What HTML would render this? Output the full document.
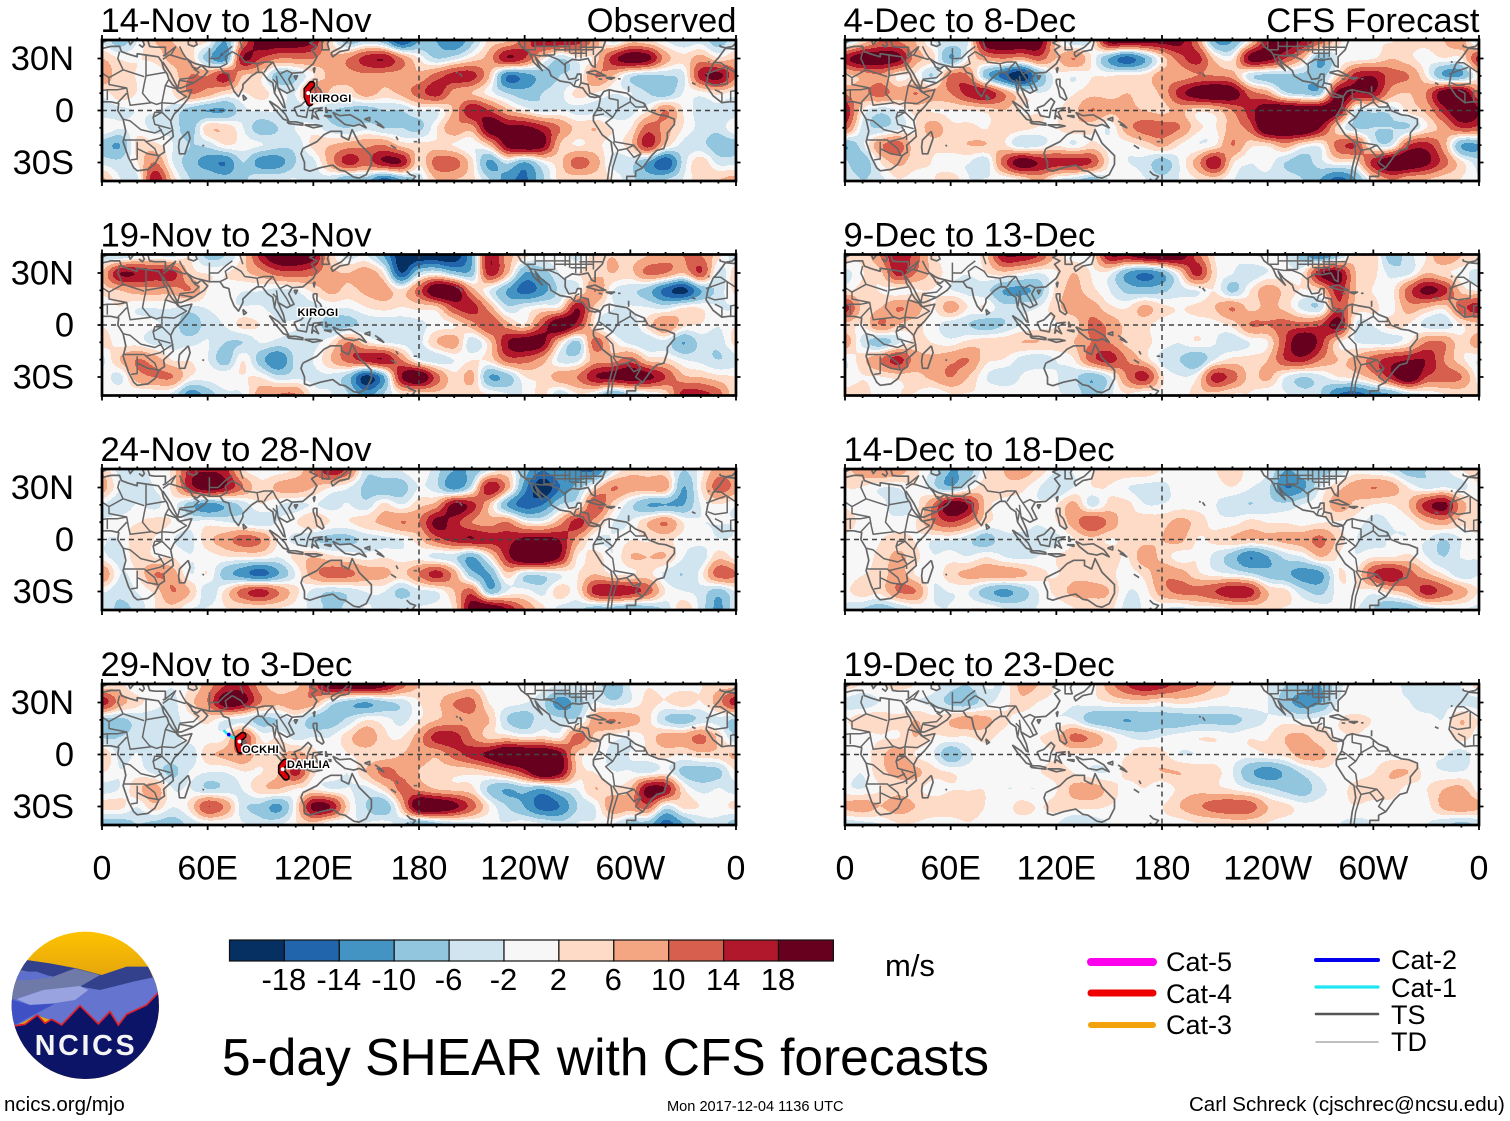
<!DOCTYPE html>
<html lang="en">
<head>
<meta charset="utf-8">
<title>5-day SHEAR with CFS forecasts</title>
<style>
html,body{margin:0;padding:0;background:#fff;}
svg{display:block;}
text{font-family:"Liberation Sans",sans-serif;fill:#000;}
</style>
</head>
<body>
<svg id="chart" xmlns="http://www.w3.org/2000/svg" width="1510" height="1121" viewBox="0 0 1510 1121">
  <rect x="0" y="0" width="1510" height="1121" fill="#fff"/>
  <defs>
    <linearGradient id="skyGrad" x1="0" y1="0" x2="0" y2="1">
      <stop offset="0" stop-color="#ffc400"/><stop offset="0.3" stop-color="#e5a60c"/>
    </linearGradient>
    <clipPath id="logoClip"><circle cx="256" cy="241" r="221"/></clipPath>
  </defs>
  <g id="panels"></g>
  <g id="colorbar"></g>
  <text x="885" y="976" font-size="31">m/s</text>

  <g transform="translate(0,925) scale(0.3333)">
    <g clip-path="url(#logoClip)">
      <rect x="30" y="15" width="452" height="460" fill="url(#skyGrad)"/>
      <polygon points="20,170 80,105 150,115 230,130 305,150 380,125 445,125 490,230 20,260" fill="#33418c"/>
      <polygon points="30,165 60,135 110,145 160,155 225,130 300,150 240,185 200,200 30,225" fill="#6f7aa8"/>
      <polygon points="50,140 110,140 160,157 90,165 40,165" fill="#5f70cc"/>
      <polygon points="30,230 50,220 130,195 240,185 300,195 400,170 470,155 490,215 440,240 380,270 350,300 300,300 240,240 190,300 110,270 45,305 20,300" fill="#6474cf"/>
      <polygon points="50,222 130,195 240,183 265,195 225,225 160,235 90,240" fill="#98a3e0"/>
      <polygon points="30,222 90,240 165,236 100,270 45,300 25,300" fill="#3e50c4"/>
      <polygon points="20,300 45,305 75,298 112,270 135,295 155,283 185,300 240,242 295,297 330,260 355,300 380,268 440,240 475,205 490,480 20,480" fill="#0b1466"/>
      <polyline points="40,303 75,298 112,270 135,295 155,283 185,300 240,242 295,297 330,260 355,300 380,268 440,240 475,203" fill="none" stroke="#e0202a" stroke-width="5"/>
    </g>
    <text x="258" y="390" text-anchor="middle" font-size="86" font-weight="700" letter-spacing="8" style="fill:#f4f4f4">NCICS</text>
  </g>

  <text x="222" y="1075" font-size="51.5">5-day SHEAR with CFS forecasts</text>
  <text x="4" y="1111" font-size="20.5">ncics.org/mjo</text>
  <text x="667" y="1111" font-size="14.6">Mon 2017-12-04 1136 UTC</text>
  <text x="1189" y="1111" font-size="20.5">Carl Schreck (cjschrec@ncsu.edu)</text>
  <g id="legend"></g>
</svg>

<script>
/* ---------- chart data ---------- */
const levelEdges = [-18,-14,-10,-6,-2,2,6,10,14,18];
const levelColors = ['#053061','#2166ac','#4393c3','#92c5de','#d1e5f0','#f7f7f7','#fddbc7','#f4a582','#d6604d','#b2182b','#67001f'];
const colorbarTickLabels = ['-18','-14','-10','-6','-2','2','6','10','14','18'];
const xTickLons = [0,60,120,180,240,300,360];
const xTickLabels = ['0','60E','120E','180','120W','60W','0'];
const yTickLats = [30,0,-30];
const yTickLabels = ['30N','0','30S'];
const leftTitles = ['14-Nov to 18-Nov','19-Nov to 23-Nov','24-Nov to 28-Nov','29-Nov to 3-Dec'];
const rightTitles = ['4-Dec to 8-Dec','9-Dec to 13-Dec','14-Dec to 18-Dec','19-Dec to 23-Dec'];

/* shear anomaly, m/s: rows 40N..40S every 10 deg, columns 0..350E every 10 deg */
const fieldNov14 = [
[-2,-6,-1,4,4,2,1,-8,8,20,20,20,16,2,-6,-3,-6,-16,-8,-8,-12,-5,2,4,10,16,16,14,6,-2,3,2,-1,-3,-2,-6],
[4,1,1,2,5,3,-6,-10,16,12,8,8,8,5,8,14,16,8,1,-4,-2,2,6,16,12,2,-4,0,2,14,20,18,6,2,6,2],
[8,2,1,-1,2,8,8,14,4,2,-6,-4,1,5,6,7,6,6,5,10,14,14,4,-12,-10,-6,-4,-2,8,4,-3,-5,-4,-2,14,18],
[0,3,1,0,1,8,6,2,1,2,0,-1,10,3,2,6,3,5,10,14,6,4,0,-4,-6,-4,-2,2,1,-1,-1,-4,-6,-1,0,2],
[-3,-2,-1,-1,-2,-6,-8,-8,-2,-1,-1,-3,-3,-4,-5,-6,-4,-4,-1,-1,5,16,12,5,1,-2,-1,-2,-2,-3,-2,1,8,1,-2,-2],
[1,-1,0,-2,-2,-6,3,3,-1,-6,-4,-1,0,-3,-4,-2,-4,-4,-5,1,7,6,20,18,18,14,8,3,4,1,1,10,6,1,-2,-3],
[-6,-8,2,2,-1,-4,-3,1,0,-1,-3,-3,2,4,6,7,8,3,2,2,1,-1,4,18,22,18,4,1,2,0,3,14,3,-2,-3,-6],
[-2,-3,1,8,-1,-6,-10,-12,-4,-10,-10,-4,-2,6,14,10,16,16,2,10,10,2,-9,-3,-8,-1,3,10,6,-2,-3,-8,-16,-3,3,-2],
[5,-1,-2,16,3,-4,-4,-6,-5,-1,-1,-1,-2,-3,-8,-6,-14,-8,-3,4,4,2,-4,-10,-13,-5,2,2,2,1,-3,-6,-4,-1,3,4]
];
const fieldDec4 = [
[-3,2,8,8,4,-1,-2,-1,20,22,22,20,3,-3,0,18,18,18,18,18,8,-8,-8,2,16,20,16,10,2,0,1,1,2,2,4,6],
[14,20,20,18,6,2,-8,1,6,8,6,10,4,8,1,-8,-14,-8,2,10,14,3,1,18,18,12,4,-8,-1,0,1,4,2,0,1,1],
[2,5,7,1,1,-4,9,8,-6,-14,-20,-8,0,-1,1,1,2,2,6,6,8,8,6,-3,-5,-5,-5,-6,3,14,16,10,8,1,-8,-8],
[8,7,10,6,8,6,8,14,16,8,1,-1,0,1,3,3,4,3,5,14,20,22,20,10,6,-3,-5,-5,18,16,16,6,4,8,20,22],
[16,1,-3,-1,2,1,1,1,2,4,1,1,1,3,8,5,5,4,3,5,2,3,8,14,22,24,22,22,18,-2,-3,-3,2,5,14,22],
[10,-2,-4,-2,1,6,2,2,1,3,2,1,1,3,2,-1,6,10,10,8,2,1,6,10,24,24,24,16,2,-4,-4,-4,-4,1,6,12],
[-8,-2,7,10,2,2,3,4,4,2,-3,-2,1,-1,2,0,0,2,5,1,-1,1,8,2,2,6,1,0,10,12,-1,-2,12,14,6,-8],
[-3,-7,1,5,2,1,-1,-1,-3,10,20,16,14,14,12,1,-1,-2,-6,-1,6,16,2,-1,0,-4,-6,-2,1,2,14,22,22,18,10,2],
[-1,-4,-2,1,0,1,3,-1,-1,-1,1,5,-1,-3,-6,-1,1,-1,-3,-1,1,2,-1,-2,-2,-2,-4,-8,-14,-8,2,8,5,4,2,1]
];
const fieldNov19 = [
[-3,-4,-1,-1,-2,1,-5,-4,2,14,22,22,18,3,-2,-1,-8,-20,-20,-20,-20,-8,16,6,2,0,1,-2,3,4,3,4,6,8,8,2],
[4,16,16,14,14,3,1,1,3,6,10,11,9,5,4,6,1,-16,-4,-1,-6,-6,14,5,-8,-6,-1,1,3,4,3,9,8,4,12,-2],
[2,4,6,6,6,8,1,0,-1,-1,-2,-1,2,5,3,5,6,2,10,22,20,6,-1,-8,-14,-10,-3,-1,8,-1,-3,-6,-14,-18,-8,-3],
[-1,1,-1,-1,-1,-2,-1,-1,-1,-1,-2,-2,-2,-1,-1,1,2,1,2,3,12,14,6,-3,-1,1,2,16,3,-1,-1,-1,-2,1,1,-1],
[1,-1,0,-1,-2,-7,-2,-1,2,1,-1,-1,-2,-6,-5,-3,-3,-3,-2,0,1,6,12,6,2,12,22,14,1,-3,-3,2,8,2,1,-1],
[2,0,0,-2,-2,-2,-1,-4,-4,-1,-2,-2,-2,1,8,2,-1,-2,-2,4,6,-3,3,16,20,18,3,-5,10,2,-2,-3,-2,-8,-3,-3],
[-2,4,8,6,1,1,-1,-6,1,-6,-12,-3,-1,4,10,14,16,8,-1,-3,-1,1,2,10,10,6,-2,-2,6,6,10,3,2,-1,-2,-4],
[1,-2,6,8,8,1,0,1,1,1,-3,-2,-2,-2,-6,-18,-8,16,22,10,2,5,-8,-6,1,2,6,8,16,18,20,18,12,5,4,2],
[1,1,-1,-1,-2,-10,-6,-2,-1,6,8,8,0,-1,-4,-10,-4,1,2,3,2,2,1,-1,-1,2,-3,1,-1,-8,-4,-1,2,14,14,10]
];
const fieldDec9 = [
[3,2,8,16,10,2,0,0,3,16,16,12,3,0,1,16,16,20,22,20,10,1,-1,1,1,-1,-6,-12,-5,3,3,-6,-2,1,8,4],
[-2,1,3,14,8,3,0,-1,1,3,1,-1,1,4,1,0,-8,-12,-8,2,14,2,-1,-3,-1,0,1,16,18,4,2,-2,-2,4,2,0],
[1,2,1,0,1,1,-1,-2,-3,-8,-9,-6,2,5,2,-1,-5,-6,-5,-2,-1,1,-5,1,6,3,1,3,14,4,1,0,10,18,14,3],
[14,3,4,8,6,1,6,1,1,-3,-2,-1,3,6,6,2,1,5,2,1,2,4,8,3,5,3,-2,-3,12,3,2,0,6,4,2,10],
[3,1,8,4,2,0,-3,-4,-6,-4,-1,0,1,2,9,7,3,2,0,0,0,0,2,8,8,10,10,12,18,-1,-1,2,1,-2,-3,1],
[6,-2,-6,-2,2,1,0,2,3,3,4,4,3,4,8,8,3,2,0,-1,1,-1,-3,-1,1,12,22,14,2,-1,-2,-2,1,8,8,2],
[-1,3,8,14,6,5,7,8,2,1,-2,-3,-1,1,10,14,8,3,-2,-4,-7,-1,2,2,4,12,14,8,4,5,10,14,16,16,8,2],
[0,1,1,2,3,5,8,4,-1,-3,-1,1,-1,-3,-7,-2,8,14,2,-1,1,14,10,3,5,-1,-4,-2,1,2,6,14,22,12,10,8],
[2,3,-1,1,1,-1,1,1,1,1,0,-1,-1,-2,-6,-2,1,-1,0,-1,3,3,1,1,-1,-1,-3,-4,-12,-14,-10,-8,-3,-1,1,2]
];
const fieldNov24 = [
[4,-2,-2,0,2,14,16,14,2,0,0,2,8,16,10,-3,-1,-1,1,-3,-8,-7,-1,2,-6,-12,-8,-12,-12,-2,3,2,2,-4,0,6],
[6,-1,-3,-1,2,14,20,16,8,2,5,6,4,1,-1,-5,-7,-6,-1,-3,-10,-2,16,6,-10,-20,-12,-6,2,8,6,6,6,-8,1,10],
[-1,-3,-1,-2,0,-6,-10,-7,-3,1,-1,-2,-1,-2,-1,-3,2,-1,3,6,18,14,4,-8,-14,-12,-4,-1,12,3,-3,-8,-8,-8,-1,1],
[-1,0,1,2,1,-1,0,-1,-2,-3,-1,1,4,1,1,3,5,8,8,18,14,8,6,8,1,0,6,14,6,-1,-1,4,8,1,-1,-1],
[-1,-1,3,1,-1,-2,3,6,10,8,1,-2,-4,-5,-5,-3,-2,-1,3,10,14,16,14,14,18,18,16,6,-1,-1,1,1,2,0,0,-1],
[0,-2,3,1,1,-1,0,1,1,1,-1,2,4,2,1,0,1,0,0,-2,-3,-8,1,14,24,24,16,1,3,-1,4,4,4,-1,-3,3],
[8,-1,1,8,6,-1,1,-6,-10,-14,-8,-1,6,10,9,6,5,3,8,14,6,-6,-8,3,-3,-3,-1,1,4,1,1,2,-2,-4,0,10],
[-1,-3,-1,2,8,4,-3,2,10,14,8,2,-2,-4,-3,-1,-1,-5,-2,-1,4,10,-6,-1,0,-2,3,1,14,16,14,10,1,-1,-2,-6],
[-2,-5,-3,1,3,-1,-1,1,1,1,1,0,-2,-5,-3,-1,-2,-1,-1,0,2,20,22,16,8,2,-2,-3,-6,-6,-8,-6,-3,3,-2,-9]
];
const fieldDec14 = [
[3,6,8,6,2,-2,-8,-6,1,4,6,3,-1,-1,1,3,3,3,1,0,0,1,3,0,-1,-8,-6,-6,-3,0,-1,-2,-6,-4,-2,1],
[1,1,-1,-1,1,-3,-7,-1,3,3,2,-1,-4,-1,1,1,-1,-2,-2,0,0,0,1,-1,-3,-12,-9,-1,3,6,8,6,1,-2,-1,-2],
[1,0,0,-3,0,8,20,16,3,0,0,-1,1,5,-2,2,2,-1,-1,0,0,-1,-3,-4,-3,-3,-1,1,6,3,1,1,4,14,18,6],
[3,0,0,0,1,8,12,8,2,0,0,-1,1,6,12,7,2,3,3,5,3,0,0,2,1,1,0,1,1,0,-2,-1,0,4,6,2],
[0,-1,1,2,1,-1,-1,-3,-6,-2,-2,-2,-2,1,3,1,2,3,4,5,1,2,4,4,4,5,6,9,3,-1,-2,-1,-1,-1,-4,-1],
[-1,0,2,5,2,-1,0,-1,1,-1,-2,-1,1,3,4,3,1,6,3,0,1,-2,-6,-12,-8,-3,-1,4,1,-1,1,1,2,-1,-4,-1],
[-1,1,2,6,1,-1,3,5,6,6,5,2,1,3,3,2,0,2,7,6,2,0,-1,-3,-6,-7,-10,-9,1,1,12,16,10,5,1,-3],
[1,3,2,8,8,-1,-1,-1,-6,-9,-6,-1,2,5,5,4,-1,0,6,9,9,12,16,14,4,2,-3,-5,0,1,0,3,6,14,10,6],
[-2,-4,-6,-4,-1,-1,-1,1,1,-1,-2,-1,-1,1,2,2,-2,-1,-1,-2,0,0,1,2,2,1,1,0,-1,-1,-4,-8,-7,-3,-1,-1]
];
const fieldNov29 = [
[2,2,-1,0,-1,1,6,12,14,6,2,3,10,20,20,22,18,10,4,2,1,3,-1,1,0,0,-1,-1,-1,-8,-1,1,0,0,1,3],
[14,6,2,0,-2,3,8,20,18,8,5,7,6,-2,-6,-8,-5,-3,1,3,8,9,1,0,-1,-3,-10,-6,-1,-3,-1,2,1,3,1,6],
[-5,-5,-3,-3,-2,0,2,-1,-2,-5,-4,-1,-6,-6,-3,1,0,-2,1,4,6,7,4,-4,-6,-2,-3,-3,6,8,6,2,-4,-6,-3,-2],
[-4,-4,-3,-3,-2,0,0,1,12,1,1,-2,-1,-1,3,7,2,1,6,14,14,8,3,3,1,2,1,10,3,0,-1,2,6,6,9,3],
[4,-2,-1,-3,-2,-3,3,5,8,2,3,6,2,-1,1,2,2,4,6,5,10,14,18,24,24,24,18,3,1,-2,-1,1,2,1,3,3],
[1,-1,0,-2,-5,-1,-1,-1,1,1,4,14,2,1,-1,4,9,7,4,3,2,2,4,8,14,24,18,3,1,-1,-1,-2,0,-5,-6,-5],
[-2,-1,3,6,-1,-1,-4,-3,-1,3,4,1,1,-1,-1,-2,2,9,7,4,3,2,-5,-8,-6,-8,-3,-1,4,2,4,18,16,2,-2,-1],
[2,2,-1,3,-1,2,12,7,-3,-5,-9,1,18,16,2,-4,-7,4,22,22,18,10,1,-4,-8,-14,-12,-4,-1,7,6,10,-2,2,1,0],
[-6,-6,-4,-5,-6,-3,-1,-1,-1,-3,-2,1,3,-1,-1,-1,0,-3,-8,-5,-3,-2,-1,-1,0,-1,-3,-1,-1,-1,-5,-6,-14,-8,-3,-2]
];
const fieldDec19 = [
[2,1,1,2,1,0,-3,-4,-1,-1,5,4,1,-1,0,6,12,16,14,10,8,4,1,0,-1,-4,-6,-8,-2,0,0,0,-2,-3,-3,-1],
[-2,-3,-1,-1,-1,-2,-5,-6,-2,0,3,1,0,-1,0,1,2,2,1,2,1,0,0,0,-1,-6,-10,-8,-1,-1,-1,-1,-1,-3,-2,-2],
[1,3,3,2,4,2,4,6,5,2,0,-1,-1,-1,-6,-7,-8,-7,-6,-6,-5,-5,-5,-3,-1,0,-1,0,1,2,1,0,0,0,-1,4],
[0,0,1,1,4,1,1,1,2,0,0,1,3,9,7,2,-1,-2,-1,0,1,1,0,1,1,4,5,2,1,1,0,1,1,0,0,2],
[0,0,3,6,1,-1,-7,-2,0,-1,0,0,1,1,1,1,1,3,2,-1,-1,0,0,0,1,2,6,5,1,0,0,0,0,-1,-1,-2],
[0,-1,3,5,5,2,1,0,0,0,0,1,2,1,-1,-1,2,3,4,4,3,2,-1,-7,-10,-7,-3,0,0,0,1,4,4,0,-1,-1],
[0,-1,1,3,2,0,1,1,1,-1,-1,-1,1,5,6,3,0,1,-1,2,3,2,1,-1,-3,-5,-6,-2,0,2,3,3,0,1,4,5],
[5,6,4,6,4,3,3,3,1,0,2,1,2,2,2,1,0,-1,1,4,7,10,11,10,4,2,0,0,0,1,0,0,-1,0,5,7],
[-3,-2,-1,1,1,0,0,1,0,0,0,0,-1,-4,-3,-1,0,0,0,0,1,1,2,2,1,0,0,0,-1,-2,-1,0,0,-1,-3,-5]
];

/* one panel per field, in column order */
const leftFields = [fieldNov14, fieldNov19, fieldNov24, fieldNov29];
const rightFields = [fieldDec4, fieldDec9, fieldDec14, fieldDec19];

/* tropical cyclones */
const stormNames = ['KIROGI','KIROGI','OCKHI','DAHLIA'];
const stormPanels = [0,1,3,3];
const stormLabelLons = [118.5,111,79.5,105];
const stormLabelLats = [4.9,5.2,1,-7.8];
const stormTrackLons = [[119,116.5,116.5,118],[],[80,77.5,77.5,78.5],[104,102,102,104.5]];
const stormTrackLats = [[15,12,8,4.5],[],[11,9,6,2.5],[-4.5,-7,-10,-13]];
const ockhiWakeLons = [69,71,73,76];
const ockhiWakeLats = [14,12,10.5,9];

/* geography in degrees, lon/lat pairs */
const coastlines = [
[-6,36,-1,35.5,5,37,10,37,11,34,15,32.5,20,31,20,32.8,25,32,32,31,34,28,35,24,37,21,38,18,40,15,43,12,44,10.5,51,12,49,7,45,2,41,-2,39,-6,40,-11,40.5,-15,35,-20,35.5,-24,32.5,-26,30,-31,26,-34,20,-34.8,18,-33,15,-27,12,-18,13.5,-12,12,-5,9,0,9.5,4,5,5,-4,5,-8,4.5,-13,8.5,-17,14.5,-16,20,-13,27,-9.5,31,-6,36],
[-9,38,-9,37,-6,36.2,-2,37,0,39,3,40.5],[15,40.5,16,38,18,40.5],[21,38,23,36.5,24,38,23,40.5],
[26,40.5,27,37,30,36.5,36,36.5,36,32,34.5,31.5],[34.5,28,39,21,43,13,45,13,52,16,58,20,60,22.5,56.5,26,54,24,51.5,25,50.5,27,48,30,51,28,53,27,57,26,61,25,67,25,69,22,72,21,73,16,75,11,77.5,8,80,13,80,15,85,20,88,22,91,22,94,18,97,16,98,10,100,7,103,2,104,1.5,103,6,100,13,105,10,109,12,106,18,108,21.5,114,22,120,27,122,31,119,35,122,37,118,39,121,40.5],
[125,40.5,125,35,129,35,128,38.5,129,40.5],[130,33,131,31,135,34,140,35,141,38,141.5,40.5],[140,40.5,136,36.5,131,34,130,33],
[49,40.5,49,38,52,37,54,38,53,40.5],[80,9,82,7,80.5,6,80,9],[121,25,120.5,22,120,24,121,25],[109,20,111,20,110,18,109,20],
[120,18,122,18,122,14,124,12,126,7,125,6,122,8,121,13,120,16,120,18],[109,1.5,113,3,117,7,119,5,117,1,116,-4,111,-3,109,1.5],
[95,5.5,100,2,104,-2,106,-6,103,-5,98,1,95,5.5],[105,-6.5,110,-6.5,114,-7.5,114,-8.5,106,-7.5,105,-6.5],[115,-8.3,122,-8.3,125,-9,120,-10,115,-8.3],
[119,-5,120,1,125,1.5,121,-1,123,-5,120,-3,119,-5],[127,2,128,-1,127,-1,127,2],[126,-3,130,-3,130,-4,126,-3],
[131,-1,135,-3,141,-2.5,147,-6,150,-10,146,-8,143,-9,138,-8,133,-4,131,-1],[149,-5,152,-4,152,-6,149,-5],[155,-6,158,-8,160,-10,156,-8],
[114,-22,122,-18,126,-14,130,-12,136,-12,136,-15,140,-17,142,-11,146,-19,153,-26,153,-31,150,-37,146,-39,143,-38.5,138,-35,135,-34.5,131,-31.5,124,-33,118,-35,115,-34,115,-30,113,-25,114,-22],
[173,-35,175,-37,178,-38,176,-40.5],[172.5,-40.5,174,-39.5],[164,-20,167,-22],[177,-18,179,-18],[167,-15,168,-17],[49,-12,50,-16,47,-25,44,-25,43.5,-21,44,-17,49,-12],[57,-20,58,-20.5],
[-157,21.5,-155.5,19.5],[-159,22,-158,21.5],
[-124,40.5,-122,37,-118,34,-117,32.5,-115,28,-110,23,-112,26,-114,31,-111,27,-106,23,-105,20,-100,17,-94,16,-92,14,-87,13,-85,10,-83,8,-80,7.5,-78,8,-77,7,-78,2,-81,-3,-81,-6,-76,-14,-71,-18,-70,-25,-72,-33,-73,-40.5],
[-62,-40.5,-62,-38,-57,-38,-57,-35,-53,-33,-48,-26,-45,-23,-41,-22,-39,-16,-39,-13,-35,-8,-35,-5,-40,-3,-44,-2.5,-50,0,-52,4,-57,6,-62,10,-68,11,-72,12,-75,11,-77,8,-80,9,-83,10,-84,15,-88,16,-88,21,-90,21,-91,18.5,-95,18,-97,22,-97,27,-93,29.5,-89,29,-84,30,-82,26,-80,25,-80,31,-76,35,-74,40.5],
[-85,22,-80,23,-74,20,-78,20,-85,22],[-74,19,-69,19,-71,18,-74,19],[-78,18.3,-76,18],[-67,18.3,-65.5,18.3],[-61,14,-61,10.5],[-16,28,-15,28],[-25,16,-23,15]
];
const borderLines = [
[25,32,25,20,36,22],[25,20,24,15.5,23,10,27,5,31,3.5,34,4.5,36,14.5,38,18],[10,34,9,30,12,23.5,24,19.5],[12,23.5,4,19,-5,25,-8.7,27.5,-13,27.5],[-17,21,-6,25],[-5,25,-5,15.5,-12,14.5,-16,16],[4,19,4,15,14,13,15,7.5,16,3,28,4.5],[14,13,9,12,3,12,3,6],[-3,5,-3,11,3,12],[9,4.5,14,10],[-8,4.5,-8,10,-12,12],
[34,4.5,41,4,48,8,43,11],[36,14.5,42,12.5,43,11],[34,4.5,34,-1,30,-1,29,-4,30,-8,39,-10.5],[12,-5,16,-6,22,-11,30,-13,34,-11],[12,-17,24,-17,25,-18,33,-16,40.5,-11],[20,-18,20,-28,16.5,-28.5],[20,-22,26,-25,32,-26],[25,-18,30,-22,31.5,-26],[29,-4,34,-1,39,-6],[32,-9,35,-14,35,-17],
[34.5,29.5,38,32,39,32,42,37],[39,32,47,29.5,48,30],[36,32,42,37],[44,37,46,33,48,30],[44,18,52,19,55,22,52,24],[52,16,44,17.5,43,13],[61,25,61,31,61,36],[61,30,66,30,70,34,74,37],[67,25,71,27,70,31,74,34],[74,34,79,31,81,28,88,27,92,28,97,28],[88,27,89,22],[92,22,94,25,97,28,99,24,101,21,105,23,108,21.5],[99,20,100,13],[101,21,105,15,107,11],[98,10,99,16,97,18],[78,41,80,35],
[-117,32.5,-111,31.5,-106,31.5,-101,29.5,-97,26],[-92,14,-91,17,-89,18],[-89,14,-88,16],[-114,40.5,-114,35,-120,35],[-109,40.5,-109,31.5],[-103,40.5,-103,32],[-94.5,40.5,-94.5,33],[-91,40.5,-91,30],[-85,40.5,-85,31],[-81,40.5,-81,32],[-114,37,-94,37],[-103,35,-81,35],[-94,33,-85,33],[-89,36.5,-76,36.5],[-109,32,-103,32],[-97,40.5,-97,34],[-88,40.5,-88,30],[-120,40.5,-120,35],
[-72,12,-72,7,-67,6,-67,1,-70,-4,-74,-7,-70,-11,-69,-18,-58,-20,-54,-25,-57,-30,-53,-33],[-67,1,-60,5,-60,8],[-60,5,-57,2,-52,2,-52,4],[-78,2,-75,0,-70,-4],[-81,-3,-75,-2],[-70,-18,-67,-23,-62,-22,-58,-20],[-67,-23,-70,-33,-71,-40.5],[-62,-22,-58,-27,-54,-25]
];

const legendNames = ['Cat-5','Cat-4','Cat-3','Cat-2','Cat-1','TS','TD'];
const legendColors = ['#ff00ee','#ee0000','#f2a20c','#0000ee','#1fe6f2','#555555','#aaaaaa'];

/* ---------- rendering ---------- */
const NS = 'http://www.w3.org/2000/svg';
const svg = document.getElementById('chart');
const panelsGroup = document.getElementById('panels');
const panelWidth = 634;
const degY = 1.733;

function mk(tag, attrs, parent) {
  const el = document.createElementNS(NS, tag);
  for (const k in attrs) el.setAttribute(k, attrs[k]);
  if (parent) parent.appendChild(el);
  return el;
}
function cr(a, b, c, d, t) {
  return 0.5 * (2*b + (c-a)*t + (2*a-5*b+4*c-d)*t*t + (3*b-a-3*c+d)*t*t*t);
}
function sampleField(field, lon, lat) {
  const gx = ((lon % 360) + 360) % 360 / 10;
  const gy = Math.min(8, Math.max(0, (40 - lat) / 10));
  const ix = Math.floor(gx), iy = Math.floor(gy), tx = gx - ix, ty = gy - iy;
  const vals = [];
  for (let j = -1; j <= 2; j++) {
    const r = field[Math.min(8, Math.max(0, iy + j))];
    vals.push(cr(r[(ix+35)%36], r[ix%36], r[(ix+1)%36], r[(ix+2)%36], tx));
  }
  const v = cr(vals[0], vals[1], vals[2], vals[3], ty);
  return v * 0.95 + 2.5 * Math.tanh(v / 3);
}
function levelIndex(v) {
  let i = 0;
  while (i < levelEdges.length && v >= levelEdges[i]) i++;
  return i;
}
function polyPathAll(list, xs, ys) {
  let d = '';
  for (const coords of list) {
    for (const off of [-360, 0, 360]) {
      for (let i = 0; i < coords.length; i += 2) {
        d += (i ? 'L' : 'M') + xs(coords[i] + off).toFixed(1) + ' ' + ys(coords[i+1]).toFixed(1);
      }
    }
  }
  return d;
}

function drawPanel(field, x0, cy, title, panelId, isLeft, isBottom, rightTitle) {
  const xs = lon => x0 + lon / 360 * panelWidth;
  const ys = lat => cy - lat * degY;
  const g = mk('g', {}, panelsGroup);
  
  

  const clipId = 'clip' + panelId;
  const defs = mk('defs', {}, g);
  const cp = mk('clipPath', {id: clipId}, defs);
  mk('rect', {x: x0, y: cy - 70.5, width: panelWidth, height: 141}, cp);

  const body = mk('g', {'clip-path': 'url(#' + clipId + ')'}, g);
  const bg = mk('rect', {x: x0, y: cy - 71, width: panelWidth, height: 142, fill: levelColors[5]}, body);
  
  

  /* filled shear bands, sampled from the field through the axis scales */
  const bandPaths = levelColors.map(() => []);
  const step = 1;
  const yStart = Math.floor(cy - 71);
  for (let py = yStart; py < cy + 71; py += step) {
    const lat = (cy - (py + step/2)) / degY;
    let runStart = x0, runLevel = -1;
    for (let px = x0; px <= x0 + panelWidth; px += step) {
      const lon = (px + step/2 - x0) / panelWidth * 360;
      const lvl = px >= x0 + panelWidth ? -2 : levelIndex(sampleField(field, lon, lat));
      if (lvl !== runLevel) {
        if (runLevel >= 0 && runLevel !== 5) {
          bandPaths[runLevel].push('M' + runStart + ' ' + py + 'h' + (px - runStart) + 'v' + step + 'h' + (runStart - px) + 'z');
        }
        runStart = px; runLevel = lvl;
      }
    }
  }
  bandPaths.forEach((parts, i) => {
    if (!parts.length) return;
    const p = mk('path', {d: parts.join(''), fill: levelColors[i], 'shape-rendering': 'crispEdges'}, body);
    
    
  });

  const coast = mk('path', {d: polyPathAll(coastlines, xs, ys), fill: 'none', stroke: '#666', 'stroke-width': 1.7, 'stroke-linejoin': 'round'}, body);
  
  
  const borders = mk('path', {d: polyPathAll(borderLines, xs, ys), fill: 'none', stroke: '#666', 'stroke-width': 1.5, 'stroke-linejoin': 'round'}, body);
  
  

  const eq = mk('line', {x1: xs(0), x2: xs(360), y1: ys(0), y2: ys(0), stroke: '#444', 'stroke-width': 1.5, 'stroke-dasharray': '5 4'}, body);
  
  
  const dl = mk('line', {x1: xs(180), x2: xs(180), y1: ys(41), y2: ys(-41), stroke: '#444', 'stroke-width': 1.5, 'stroke-dasharray': '5 4'}, body);
  
  

  /* ticks */
  let tickD = '';
  const top = cy - 70.5, bot = cy + 70.5;
  for (let lon = 0; lon <= 360; lon += 10) {
    const len = lon % 60 === 0 ? 5 : 2.5;
    const x = xs(lon);
    tickD += 'M' + x + ' ' + (top - len) + 'V' + top + 'M' + x + ' ' + bot + 'V' + (bot + len);
  }
  for (let lat = -30; lat <= 30; lat += 10) {
    const len = lat % 30 === 0 ? 4.5 : 2.5;
    const y = ys(lat);
    tickD += 'M' + (x0 - len) + ' ' + y + 'H' + x0 + 'M' + (x0 + panelWidth) + ' ' + y + 'H' + (x0 + panelWidth + len);
  }
  const ticks = mk('path', {d: tickD, stroke: '#000', 'stroke-width': 1.8, fill: 'none'}, g);
  
  
  const frame = mk('rect', {x: x0, y: top, width: panelWidth, height: 141, fill: 'none', stroke: '#000', 'stroke-width': 2.7}, g);
  
  

  const t = mk('text', {x: x0 - 1.5, y: top - 8, 'font-size': 34.6}, g);
  t.textContent = title;
  
  
  if (rightTitle) {
    const rt = mk('text', {x: x0 + panelWidth + 0.5, y: top - 8, 'font-size': 34.6, 'text-anchor': 'end'}, g);
    rt.textContent = rightTitle;
    
    
  }
  if (isLeft) {
    yTickLats.forEach((lat, i) => {
      const lab = mk('text', {x: x0 - 28, y: ys(lat) + 11.5, 'font-size': 34.5, 'text-anchor': 'end'}, g);
      lab.textContent = yTickLabels[i];
      
      
    });
  }
  if (isBottom) {
    xTickLons.forEach((lon, i) => {
      const lab = mk('text', {x: xs(lon), y: 879.5, 'font-size': 34, 'text-anchor': 'middle'}, g);
      lab.textContent = xTickLabels[i];
      
      
    });
  }
  return {xs, ys, g, clipId};
}

const centers = [110.5, 325, 539.5, 754.5];
const leftPanels = [];
leftFields.forEach((f, i) => {
  leftPanels.push(drawPanel(f, 102, centers[i], leftTitles[i], 'left-' + i, true, i === 3, i === 0 ? 'Observed' : ''));
});
rightFields.forEach((f, i) => {
  drawPanel(f, 845, centers[i], rightTitles[i], 'right-' + i, false, i === 3, i === 0 ? 'CFS Forecast' : '');
});

/* storms */
stormNames.forEach((name, s) => {
  const p = leftPanels[stormPanels[s]];
  const lons = stormTrackLons[s], lats = stormTrackLats[s];
  const sg = mk('g', {}, p.g);
  
  
  if (name === 'OCKHI') {
    const wake = ockhiWakeLons.map((lon, i) => p.xs(lon) + ',' + p.ys(ockhiWakeLats[i])).join(' ');
    mk('polyline', {points: wake, fill: 'none', stroke: '#1fe6f2', 'stroke-width': 2.5}, sg);
    mk('circle', {cx: p.xs(72), cy: p.ys(11.5), r: 1.8, fill: '#0000ee'}, sg);
  }
  if (lons.length) {
    const pts = lons.map((lon, i) => p.xs(lon) + ',' + p.ys(lats[i])).join(' ');
    mk('polyline', {points: pts, fill: 'none', stroke: '#000', 'stroke-width': 7.5, 'stroke-linecap': 'round'}, sg);
    mk('polyline', {points: pts, fill: 'none', stroke: '#e0000a', 'stroke-width': 4.5, 'stroke-linecap': 'round'}, sg);
    mk('circle', {cx: p.xs(lons[1] + 0.6), cy: p.ys((lats[1] + lats[2]) / 2), r: 2, fill: '#fff'}, sg);
  }
  const lab = mk('text', {x: p.xs(stormLabelLons[s]), y: p.ys(stormLabelLats[s]), 'font-size': 11, 'font-weight': 700, 'letter-spacing': 0.3, stroke: '#fff', 'stroke-width': 3, 'paint-order': 'stroke', 'stroke-linejoin': 'round'}, sg);
  lab.textContent = name;
  
  
});

/* colorbar */
const cbGroup = document.getElementById('colorbar');
const cbX0 = 229.5, cbCell = 54.9, cbY = 940, cbH = 21;
levelColors.forEach((c, i) => {
  const r = mk('rect', {x: cbX0 + i * cbCell, y: cbY, width: cbCell, height: cbH, fill: c, stroke: '#111', 'stroke-width': 1.2}, cbGroup);
  
  
});
colorbarTickLabels.forEach((lab, i) => {
  const t = mk('text', {x: cbX0 + (i + 1) * cbCell - 0.5, y: 990, 'font-size': 31, 'text-anchor': 'middle'}, cbGroup);
  t.textContent = lab;
  
  
});

/* legend */
const legendGroup = document.getElementById('legend');
const legendX1 = [1091,1091,1091,1316,1316,1316,1316];
const legendX2 = [1153,1153,1153,1378,1378,1378,1378];
const legendY = [962,993,1025,960,987,1014,1042];
const legendW = [8,7,6,4,3.2,2.6,1.6];
const legendTextX = [1166,1166,1166,1391,1391,1391,1391];
const legendTextY = [971,1003,1034,969,997,1024,1051];
legendNames.forEach((name, i) => {
  const l = mk('line', {x1: legendX1[i], x2: legendX2[i], y1: legendY[i], y2: legendY[i], stroke: legendColors[i], 'stroke-width': legendW[i], 'stroke-linecap': 'round'}, legendGroup);
  
  
  const t = mk('text', {x: legendTextX[i], y: legendTextY[i], 'font-size': 27}, legendGroup);
  t.textContent = name;
  
  
});
</script>
</body>
</html>
